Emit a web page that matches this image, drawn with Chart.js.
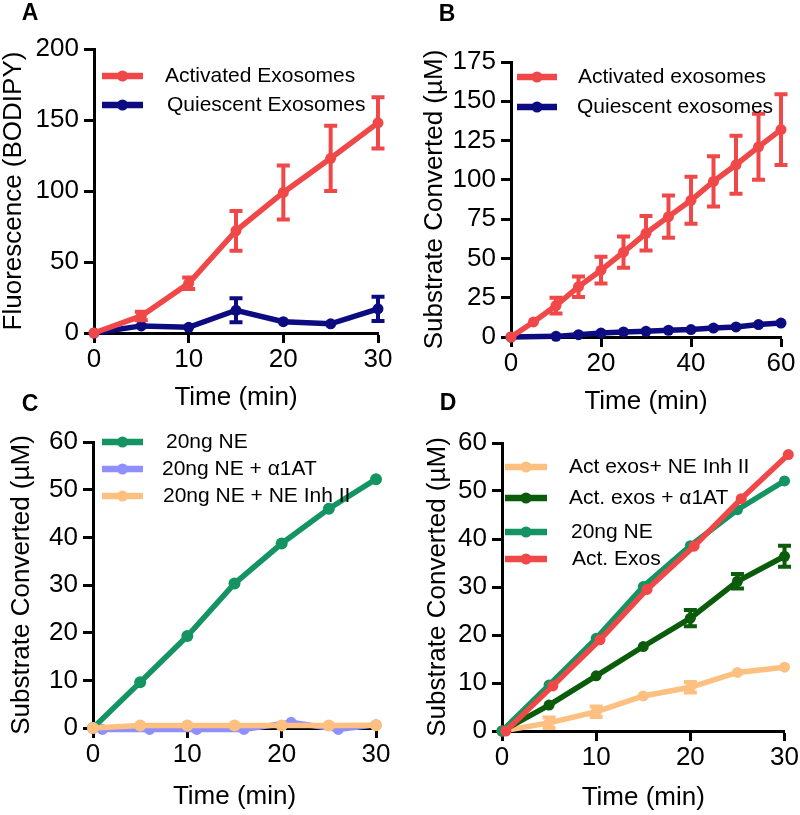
<!DOCTYPE html>
<html>
<head>
<meta charset="utf-8">
<script src="https://cdn.jsdelivr.net/npm/chart.js@4"></script>
<style>
  body { margin: 0; background: #fff; }
  #wrap { position: relative; width: 800px; height: 815px; overflow: hidden; }
  canvas { position: absolute; }
</style>
</head>
<body>
<div id="wrap">
  <canvas id="cA"></canvas>
  <canvas id="cB"></canvas>
  <canvas id="cC"></canvas>
  <canvas id="cD"></canvas>
</div>
<script>
// ---- data ----
const timeA = [0, 5, 10, 15, 20, 25, 30];
const activatedA = [0, 12, 35, 72, 99, 123, 148];
const activatedAErr = [0, 3, 4, 14, 19, 23, 18];
const quiescentA = [0, 5, 4, 16, 8, 6.5, 17];
const quiescentAErr = [0, 0, 0, 8.5, 0, 0, 8.5];

const timeB = [0, 5, 10, 15, 20, 25, 30, 35, 40, 45, 50, 55, 60];
const activatedB = [0, 9.6, 20, 32, 42.5, 54, 66, 76.6, 87, 99, 109.6, 121, 132];
const activatedBErr = [0, 0, 5, 6.5, 8.5, 10, 11, 13.5, 15, 16, 18.5, 21, 22.5];
const timeBQ = [0, 10, 15, 20, 25, 30, 35, 40, 45, 50, 55, 60];
const quiescentB = [0, 0.4, 1.5, 2.5, 3.2, 3.6, 4.3, 4.7, 5.7, 6.4, 7.9, 8.9];

const timeC = [0, 5, 10, 15, 20, 25, 30];
const ne20C = [0, 9.6, 19.3, 30.3, 38.7, 46, 52.2];
const timeCA1AT = [1, 6, 11, 16, 21, 26, 30];
const a1atC = [-0.3, -0.3, -0.3, -0.3, 1.2, -0.3, 0.7];
const inhC = [0, 0.5, 0.5, 0.5, 0.5, 0.5, 0.6];

const timeD = [0, 5, 10, 15, 20, 25, 30];
const timeDRed = [0.4, 5.4, 10.4, 15.4, 20.4, 25.4, 30.4];
const inhD = [0, 1.7, 4.0, 7.3, 9.1, 12.2, 13.3];
const inhDErr = [0, 1.1, 1.1, 0, 1.1, 0, 0];
const a1atD = [0, 5.4, 11.5, 17.6, 23.5, 31.2, 36.4];
const a1atDErr = [0, 0, 0, 0, 1.7, 1.5, 2.2];
const ne20D = [0, 9.6, 19.3, 30.1, 38.6, 46.1, 52.1];
const actD = [0, 9.4, 19.0, 29.5, 38.5, 48.4, 57.6];

const RED = '#f04848';
const NAVY = '#0c0c80';
const GREEN = '#149462';
const PURPLE = '#8f8fff';
const ORANGE = '#fdc081';
const DKGREEN = '#0a5c0a';

const FONT = 'Arial, "Liberation Sans", sans-serif';
const TICK_SIZE = 26;
const TITLE_SIZE = 26;

// ---- helpers ----
function pts(xs, ys) {
    return xs.map((x, i) => ({ x: x, y: ys[i] }));
}

function line(label, xs, ys, color, extra) {
    return Object.assign({
        label: label,
        data: pts(xs, ys),
        borderColor: color,
        backgroundColor: color,
        borderWidth: 5.5,
        pointRadius: 5.5,
        pointBorderWidth: 0,
        pointBackgroundColor: color,
        tension: 0,
        clip: false
    }, extra || {});
}

// error bars drawn through the chart's own scales
const errorBars = {
    id: 'errorBars',
    afterDatasetDraw(chart, args) {
        const ds = chart.data.datasets[args.index];
        if (!ds.err) return;
        const ctx = chart.ctx;
        const xs = chart.scales.x, ys = chart.scales.y;
        ctx.save();
        ctx.strokeStyle = ds.borderColor;
        ctx.lineWidth = 4;
        ds.data.forEach((p, i) => {
            const e = ds.err[i];
            if (!e) return;
            const px = xs.getPixelForValue(p.x);
            const top = ys.getPixelForValue(p.y + e);
            const bot = ys.getPixelForValue(p.y - e);
            ctx.beginPath();
            ctx.moveTo(px, top); ctx.lineTo(px, bot);
            ctx.moveTo(px - 6.5, top); ctx.lineTo(px + 6.5, top);
            ctx.moveTo(px - 6.5, bot); ctx.lineTo(px + 6.5, bot);
            ctx.stroke();
        });
        ctx.restore();
    }
};

// legend + panel letter, positioned in canvas coordinates
const decor = {
    id: 'decor',
    afterDraw(chart) {
        const o = chart.options.plugins.decor;
        const ctx = chart.ctx;
        ctx.save();
        ctx.fillStyle = '#000';
        ctx.font = 'bold 23px ' + FONT;
        ctx.textAlign = 'center';
        ctx.textBaseline = 'middle';
        ctx.fillText(o.letter, o.letterX, o.letterY);
        o.items.forEach(it => {
            ctx.strokeStyle = it.color;
            ctx.fillStyle = it.color;
            ctx.lineWidth = 6.5;
            ctx.beginPath();
            ctx.moveTo(o.x0, it.y); ctx.lineTo(o.x1, it.y);
            ctx.stroke();
            ctx.beginPath();
            ctx.arc((o.x0 + o.x1) / 2, it.y, 5.5, 0, Math.PI * 2);
            ctx.fill();
            ctx.fillStyle = '#000';
            ctx.font = '21px ' + FONT;
            ctx.textAlign = 'left';
            ctx.fillText(it.text, it.tx, it.y);
        });
        ctx.restore();
    }
};

function axis(min, max, step, title, fit, tickPad) {
    return {
        type: 'linear',
        min: min,
        max: max,
        border: { display: true, color: '#000', width: 3 },
        grid: { display: true, drawOnChartArea: false, drawTicks: true, tickLength: 10, tickWidth: 3, tickColor: '#000' },
        ticks: { stepSize: step, color: '#000', padding: tickPad, font: { family: FONT, size: TICK_SIZE }, autoSkip: false, maxRotation: 0 },
        title: { display: true, text: title, color: '#000', padding: 0, font: { family: FONT, size: TITLE_SIZE } },
        afterFit: fit
    };
}

// panel: canvas box (page coords), plot area (page coords), title centres
function panel(id, box, area, yTitleX, xTitleY, xr, yr, yTitle, datasets, decorOpts) {
    const cv = document.getElementById(id);
    cv.width = box.w; cv.height = box.h;
    cv.style.left = box.l + 'px'; cv.style.top = box.t + 'px';
    const half = TITLE_SIZE * 0.6; // title line height / 2
    const padL = yTitleX - half - box.l;
    const yW = area.l - box.l - padL;
    const xBottom = xTitleY + half;
    const xH = xBottom - area.b;
    decorOpts.x0 -= box.l; decorOpts.x1 -= box.l;
    decorOpts.letterX -= box.l; decorOpts.letterY -= box.t;
    decorOpts.items.forEach(it => { it.y -= box.t; it.tx -= box.l; });
    new Chart(cv.getContext('2d'), {
        type: 'line',
        data: { datasets: datasets },
        options: {
            responsive: false,
            animation: false,
            devicePixelRatio: 1,
            layout: { padding: { left: padL, top: area.t - box.t, right: box.l + box.w - area.r, bottom: box.t + box.h - xBottom } },
            scales: {
                x: axis(xr[0], xr[1], xr[2], 'Time (min)', s => { s.height = xH; }, 1),
                y: axis(yr[0], yr[1], yr[2], yTitle, s => { s.width = yW; }, 5)
            },
            plugins: { legend: { display: false }, tooltip: { enabled: false }, decor: decorOpts }
        },
        plugins: [errorBars, decor]
    });
}

const SUB = 'Substrate Converted (\u00B5M)';

panel('cA', { l: 0, t: 0, w: 400, h: 420 }, { l: 94, t: 49, r: 378, b: 333 }, 14, 398,
    [0, 30, 10], [0, 200, 50], 'Fluorescence (BODIPY)',
    [
        line('Activated Exosomes', timeA, activatedA, RED, { err: activatedAErr, order: 1 }),
        line('Quiescent Exosomes', timeA, quiescentA, NAVY, { err: quiescentAErr, order: 2 })
    ],
    { letter: 'A', letterX: 30, letterY: 14, x0: 102, x1: 143, items: [
        { text: 'Activated Exosomes', color: RED, y: 76, tx: 165 },
        { text: 'Quiescent Exosomes', color: NAVY, y: 105, tx: 167 }
    ] });

panel('cB', { l: 400, t: 0, w: 400, h: 420 }, { l: 511, t: 62, r: 781, b: 337 }, 435, 402,
    [0, 60, 20], [0, 175, 25], SUB,
    [
        line('Activated exosomes', timeB, activatedB, RED, { err: activatedBErr, order: 1 }),
        line('Quiescent exosomes', timeBQ, quiescentB, NAVY, { order: 2 })
    ],
    { letter: 'B', letterX: 447, letterY: 15, x0: 517, x1: 557, items: [
        { text: 'Activated exosomes', color: RED, y: 77, tx: 578 },
        { text: 'Quiescent exosomes', color: NAVY, y: 107, tx: 577 }
    ] });

panel('cC', { l: 0, t: 385, w: 400, h: 430 }, { l: 93, t: 442, r: 376, b: 728 }, 22, 797,
    [0, 30, 10], [0, 60, 10], SUB,
    [
        line('20ng NE', timeC, ne20C, GREEN, { pointRadius: 6, order: 3 }),
        line('20ng NE + \u03B11AT', timeCA1AT, a1atC, PURPLE, { order: 2 }),
        line('20ng NE + NE Inh II', timeC, inhC, ORANGE, { pointRadius: 6, order: 1 })
    ],
    { letter: 'C', letterX: 30, letterY: 405, x0: 102, x1: 143, items: [
        { text: '20ng NE', color: GREEN, y: 442, tx: 166 },
        { text: '20ng NE + \u03B11AT', color: PURPLE, y: 469, tx: 162 },
        { text: '20ng NE + NE Inh II', color: ORANGE, y: 496, tx: 163 }
    ] });

panel('cD', { l: 400, t: 385, w: 400, h: 430 }, { l: 502, t: 443, r: 785, b: 731 }, 438, 798,
    [0, 30, 10], [0, 60, 10], SUB,
    [
        line('Act exos+ NE Inh II', timeD, inhD, ORANGE, { err: inhDErr, order: 4 }),
        line('Act. exos + \u03B11AT', timeD, a1atD, DKGREEN, { err: a1atDErr, order: 3 }),
        line('20ng NE', timeD, ne20D, GREEN, { order: 2 }),
        line('Act. Exos', timeDRed, actD, RED, { order: 1 })
    ],
    { letter: 'D', letterX: 448, letterY: 404, x0: 505, x1: 547, items: [
        { text: 'Act exos+ NE Inh II', color: ORANGE, y: 467, tx: 569 },
        { text: 'Act. exos + \u03B11AT', color: DKGREEN, y: 498, tx: 569 },
        { text: '20ng NE', color: GREEN, y: 532, tx: 571 },
        { text: 'Act. Exos', color: RED, y: 559, tx: 572 }
    ] });
</script>
</body>
</html>
